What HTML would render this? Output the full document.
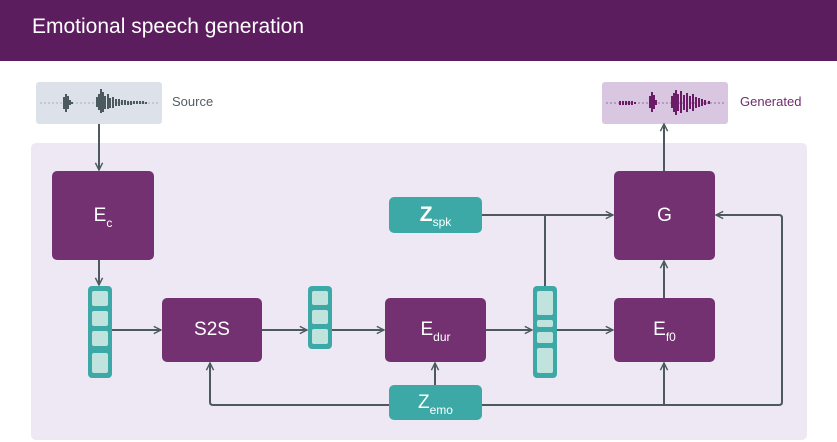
<!DOCTYPE html>
<html><head><style>
body{margin:0;width:837px;height:442px;overflow:hidden;background:#fff;font-family:"Liberation Sans",sans-serif;position:relative}
.hd{position:absolute;left:0;top:0;width:837px;height:61px;background:#5c1d5f}
.hd span{position:absolute;left:32px;top:15px;color:#fff;font-size:21px}
.a{position:absolute}
.p{position:absolute;background:#743171;border-radius:5px;color:#fff;font-size:19px;display:flex;align-items:center;justify-content:center}
.t{position:absolute;background:#3da9a7;border-radius:5px;color:#fff;font-size:19px;display:flex;align-items:center;justify-content:center}
.s{font-size:12px;position:relative;top:7px}
</style></head><body>
<div class="hd"><span>Emotional speech generation</span></div>
<div class="a" style="left:36px;top:82px;width:126px;height:42px;background:#dde2ea;border-radius:3px"></div>
<div class="a" style="left:172px;top:94px;font-size:13px;color:#555d66">Source</div>
<div class="a" style="left:602px;top:82px;width:126px;height:42px;background:#d9c6e0;border-radius:3px"></div>
<div class="a" style="left:740px;top:94px;font-size:13px;color:#6f2c6e">Generated</div>
<div class="a" style="left:31px;top:143px;width:776px;height:297px;background:#ede8f3;border-radius:5px"></div>
<svg class="a" style="left:0;top:0" width="837" height="442">
<defs><marker id="m" viewBox="0 0 10 10" refX="9" refY="5" markerWidth="9" markerHeight="9" orient="auto-start-reverse" markerUnits="userSpaceOnUse"><path d="M1 1L9 5L1 9" fill="none" stroke="#4c5a60" stroke-width="1.6"/></marker></defs>
<g stroke="#4c5a60" stroke-width="2" fill="none">
<line x1="40" y1="103" x2="158" y2="103" stroke="#a9b0b8" stroke-width="1" stroke-dasharray="2 2"/>
<line x1="606" y1="103" x2="724" y2="103" stroke="#9a6aa0" stroke-width="1" stroke-dasharray="2 2"/>
<line x1="99" y1="124" x2="99" y2="170" marker-end="url(#m)"/>
<line x1="99" y1="260" x2="99" y2="285" marker-end="url(#m)"/>
<line x1="112" y1="330" x2="161" y2="330" marker-end="url(#m)"/>
<line x1="262" y1="330" x2="307" y2="330" marker-end="url(#m)"/>
<line x1="332" y1="330" x2="384" y2="330" marker-end="url(#m)"/>
<line x1="486" y1="330" x2="532" y2="330" marker-end="url(#m)"/>
<line x1="557" y1="330" x2="613" y2="330" marker-end="url(#m)"/>
<line x1="482" y1="215" x2="613" y2="215" marker-end="url(#m)"/>
<line x1="545" y1="286" x2="545" y2="215"/>
<line x1="664" y1="298" x2="664" y2="261" marker-end="url(#m)"/>
<line x1="664" y1="124" x2="664" y2="171" marker-start="url(#m)"/>
<line x1="435" y1="385" x2="435" y2="363" marker-end="url(#m)"/>
<path d="M482 405H779q3 0 3-3V218q0-3-3-3H716" marker-end="url(#m)"/>
<path d="M664 405V363" marker-end="url(#m)"/>
<path d="M389 405H213q-3 0-3-3V363" marker-end="url(#m)"/>
</g>
<g stroke="#4c5a60" stroke-width="2">
<path d="M64 97v12M66 94v18M68 96v13M70 100v5M72 102v2M97 97v10M99 94v16M101 89v24M103 92v20M105 96v13M108 94v15M110 98v10M113 97v11M116 99v7M119 99v7M122 100v5M125 100v5M128 101v4M131 101v4M134 101v3M137 101v3M140 101v3M143 101v3M146 102v2"/>
</g>
<g stroke="#6a1d66" stroke-width="2">
<path d="M620 101v4M623 101v4M626 101v4M629 101v4M632 101v4M635 102v2M650 96v12M652 92v20M654 95v14M656 100v5M672 96v12M674 93v19M676 90v25M678 94v17M681 91v22M684 95v15M687 93v19M690 96v13M693 94v17M696 97v11M699 98v9M702 99v7M705 100v5M709 101v3"/>
</g>
</svg>
<div class="p" style="left:52px;top:171px;width:102px;height:89px">E<span class="s">c</span></div>
<div class="p" style="left:162px;top:298px;width:100px;height:64px">S2S</div>
<div class="p" style="left:385px;top:298px;width:101px;height:64px">E<span class="s">dur</span></div>
<div class="p" style="left:614px;top:298px;width:101px;height:64px">E<span class="s">f0</span></div>
<div class="p" style="left:614px;top:171px;width:101px;height:89px">G</div>
<div class="t" style="left:389px;top:197px;width:93px;height:36px"><b style="font-size:21px">Z</b><span class="s">spk</span></div>
<div class="t" style="left:389px;top:385px;width:93px;height:35px">Z<span class="s">emo</span></div>
<svg class="a" style="left:0;top:0" width="837" height="442">
<g fill="#3da9a7"><rect x="88" y="286" width="24" height="92" rx="4"/><rect x="308" y="286" width="24" height="63" rx="4"/><rect x="533" y="286" width="24" height="92" rx="4"/></g>
<g fill="#c0e4dd">
<rect x="92" y="291" width="16" height="15" rx="2"/><rect x="92" y="311" width="16" height="15" rx="2"/><rect x="92" y="331" width="16" height="15" rx="2"/><rect x="92" y="353" width="16" height="20" rx="2"/>
<rect x="312" y="291" width="16" height="14" rx="2"/><rect x="312" y="310" width="16" height="14" rx="2"/><rect x="312" y="329" width="16" height="15" rx="2"/>
<rect x="537" y="291" width="16" height="24" rx="2"/><rect x="537" y="320" width="16" height="7" rx="2"/><rect x="537" y="332" width="16" height="11" rx="2"/><rect x="537" y="348" width="16" height="25" rx="2"/>
</g></svg>
</body></html>
